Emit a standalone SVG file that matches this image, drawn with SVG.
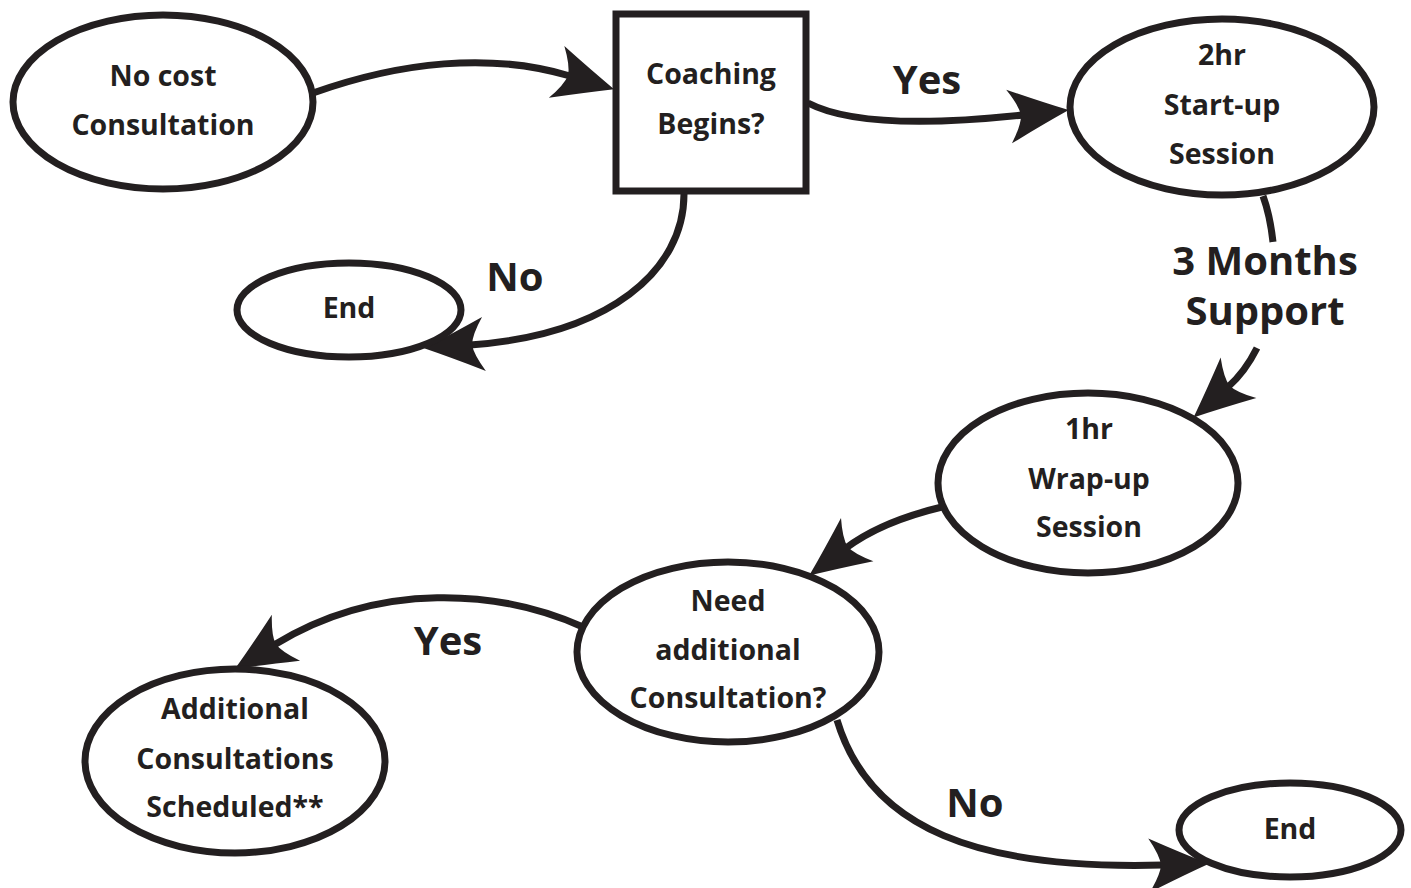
<svg xmlns="http://www.w3.org/2000/svg" width="1411" height="888" viewBox="0 0 1411 888">
<style>
.node{fill:#fff;stroke:#231f20;stroke-width:7}
.t{font-family:"Open Sans","Liberation Sans",sans-serif;font-weight:700;font-size:28.5px;fill:#231f20;text-anchor:middle}
.lbl{font-family:"Open Sans","Liberation Sans",sans-serif;font-weight:700;font-size:40px;fill:#231f20;text-anchor:middle}
.c{fill:none;stroke:#231f20;stroke-width:7}
</style>
<defs>
<marker id="ah" markerUnits="userSpaceOnUse" orient="auto" refX="0" refY="0" markerWidth="200" markerHeight="200" overflow="visible">
<path d="M46,0 Q20,-11 -14,-27 Q-3,-10 -2,0 Q-3,10 -14,27 Q20,11 46,0 Z" fill="#231f20"/>
</marker>
</defs>
<rect width="1411" height="888" fill="#fff"/>
<g id="connectors">
<path class="c" d="M313,93 C400,62 490,52 570,76" marker-end="url(#ah)"/>
<path class="c" d="M808,103 C850,125 930,125 1023,115" marker-end="url(#ah)"/>
<path class="c" d="M684,194 C684,270 610,335 470,345" marker-end="url(#ah)"/>
<path class="c" d="M1263,196 Q1270,215 1273,242"/>
<path class="c" d="M1257,348 Q1245,372 1228,387" marker-end="url(#ah)"/>
<path class="c" d="M942,507 C900,517 870,530 846,548" marker-end="url(#ah)"/>
<path class="c" d="M583,627 C500,590 380,580 274,645" marker-end="url(#ah)"/>
<path class="c" d="M837,720 C870,830 980,870 1163,865" marker-end="url(#ah)"/>
<text class="lbl" x="927" y="94">Yes</text>
<text class="lbl" x="515" y="291">No</text>
<text class="lbl" x="1265" y="275">3 Months</text>
<text class="lbl" x="1265" y="325">Support</text>
<text class="lbl" x="448" y="655">Yes</text>
<text class="lbl" x="975" y="817">No</text>
</g>
<g id="n-consult">
<ellipse class="node" cx="163" cy="102" rx="150" ry="87"/>
<text class="t" x="163" y="86">No cost</text>
<text class="t" x="163" y="135">Consultation</text>
</g>
<g id="n-coaching">
<rect class="node" x="616" y="14" width="190" height="177"/>
<text class="t" x="711" y="84">Coaching</text>
<text class="t" x="711" y="134">Begins?</text>
</g>
<g id="n-startup">
<ellipse class="node" cx="1222" cy="107" rx="152" ry="88"/>
<text class="t" x="1222" y="65">2hr</text>
<text class="t" x="1222" y="115">Start-up</text>
<text class="t" x="1222" y="164">Session</text>
</g>
<g id="n-end1">
<ellipse class="node" cx="349" cy="310" rx="112" ry="47"/>
<text class="t" x="349" y="318">End</text>
</g>
<g id="n-wrapup">
<ellipse class="node" cx="1088" cy="483" rx="150" ry="90"/>
<text class="t" x="1089" y="439">1hr</text>
<text class="t" x="1089" y="489">Wrap-up</text>
<text class="t" x="1089" y="537">Session</text>
</g>
<g id="n-need">
<ellipse class="node" cx="728" cy="652" rx="151" ry="90"/>
<text class="t" x="728" y="611">Need</text>
<text class="t" x="728" y="660">additional</text>
<text class="t" x="728" y="708">Consultation?</text>
</g>
<g id="n-additional">
<ellipse class="node" cx="235" cy="761" rx="150" ry="92"/>
<text class="t" x="235" y="719">Additional</text>
<text class="t" x="235" y="769">Consultations</text>
<text class="t" x="235" y="817">Scheduled**</text>
</g>
<g id="n-end2">
<ellipse class="node" cx="1290" cy="830" rx="111" ry="47"/>
<text class="t" x="1290" y="839">End</text>
</g>
</svg>
